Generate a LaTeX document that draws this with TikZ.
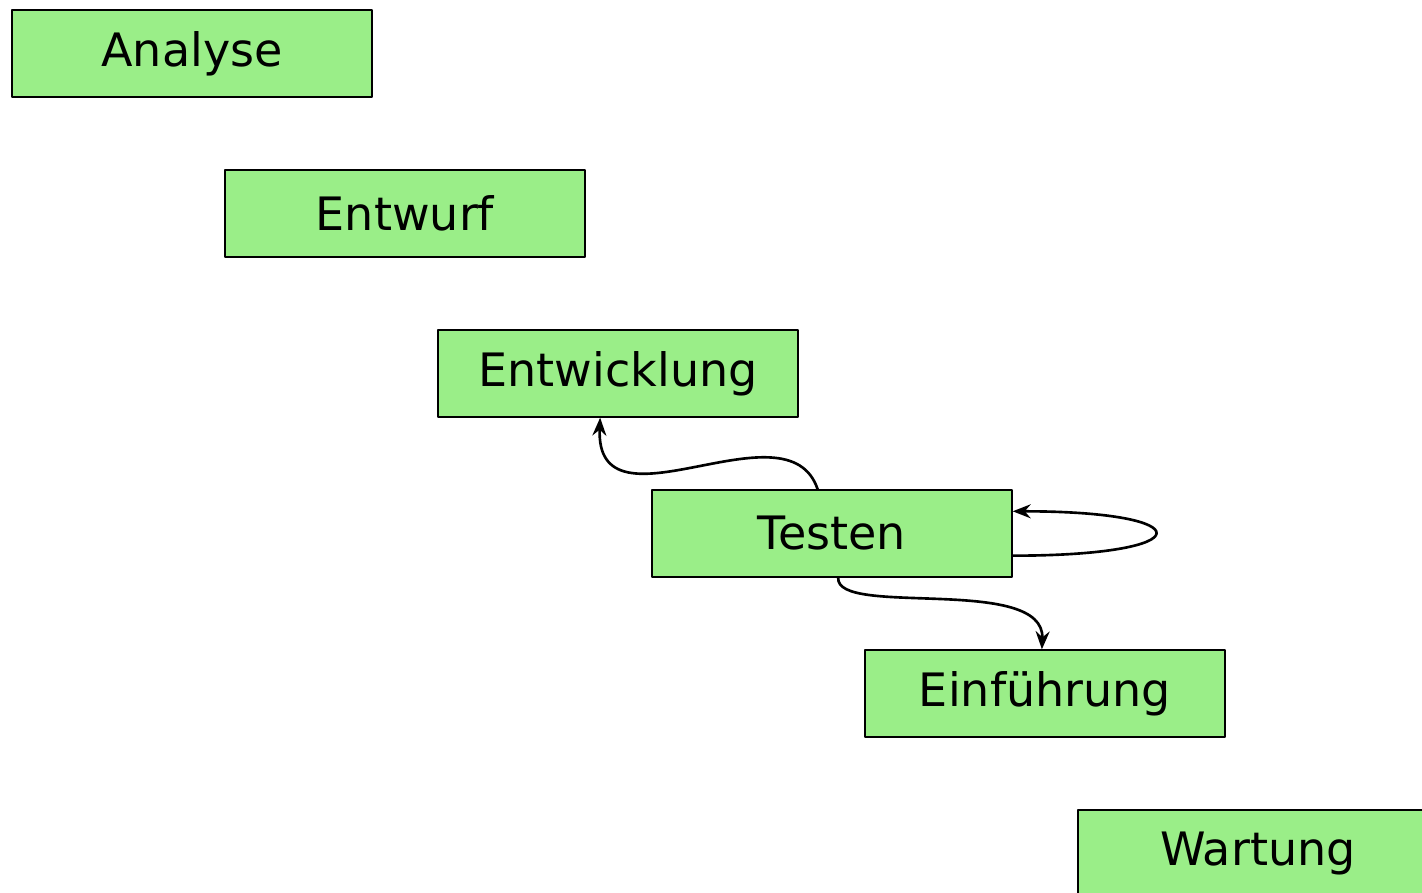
\documentclass[tikz,border=0pt]{standalone}
\usepackage{fontspec}
\setmainfont{DejaVu Sans}
\usetikzlibrary{arrows.meta}
\definecolor{phasegreen}{RGB}{154,238,136}

\begin{document}
\begin{tikzpicture}[line cap=round,line join=round,
    phase/.style={draw=black,line width=0.4pt,fill=phasegreen,minimum width=3.6cm,minimum height=0.87cm,
      inner sep=0pt,font=\fontsize{13.1}{15}\selectfont},
    flow/.style={line width=0.75pt,-{Stealth[length=1.8mm,width=1.4mm,inset=0.6mm]}}]
  \useasboundingbox (0,0) rectangle (14.22,-8.93);
  % Phasen
  \node[phase] (analyse) at (1.92,-0.535) {Analyse};
  \node[phase] (entwurf) at (4.05,-2.135) {Entwurf};
  \node[phase] (entwicklung) at (6.18,-3.735) {Entwicklung};
  \node[phase] (testen) at (8.32,-5.335) {Testen};
  \node[phase] (einfuehrung) at (10.45,-6.935) {Einführung};
  \node[phase] (wartung) at (12.58,-8.535) {Wartung};
  % Rueckspruenge
  \draw[flow] (testen.108) .. controls +(-0.3,0.9) and +(-0.05,-1.22) .. (entwicklung.248);
  \draw[flow] (testen.-7) .. controls +(1.9,0) and +(1.9,0) .. (testen.7);
  \draw[flow] (testen.-82) .. controls +(-0.03,-0.4) and +(0.03,0.75) .. (einfuehrung.94);
\end{tikzpicture}
\end{document}
